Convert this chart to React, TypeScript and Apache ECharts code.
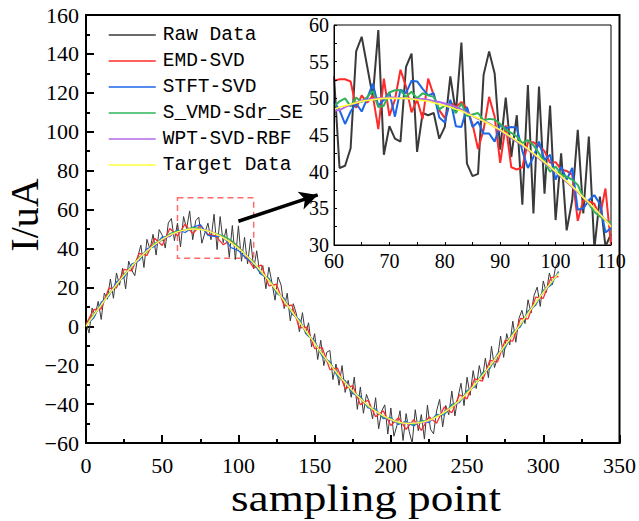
import React, { useEffect, useRef } from "react";
import * as echarts from "echarts";

const seriesNames = ["Raw Data", "EMD-SVD", "STFT-SVD", "S_VMD-Sdr_SE", "WPT-SVD-RBF", "Target Data"];
const seriesColors = ["#3a3a3a", "#ff2b2b", "#1a66e6", "#2db45a", "#b36ae6", "#ffff3a"];

// main chart: raw data sampled every 2 points, filters every 5, smooth curves every 10
const rawMainStep = 2;
const rawMain = [2, -3.5, 9.4, 5.6, 12.8, 3.5, 17.1, 13.9, 24.3, 14.4,
  27.4, 21.1, 29.8, 19.2, 33.5, 28.9, 26.0, 35.8, 41.7, 30.2,
  44.7, 39.5, 47.3, 36.6, 49.7, 46.8, 40.2, 53.1, 55.4, 44.0,
  53, 40.8, 56.4, 50.2, 59.3, 44.5, 54.3, 56.1, 42.7, 48,
  53, 44.5, 57.6, 39.4, 56.4, 43, 50.1, 35.5, 51.8, 34.3,
  51.6, 33.4, 45.7, 32, 44.8, 29.5, 38.8, 27, 31.2, 19.3,
  30.4, 22.4, 13.4, 25.3, 21.2, 9.1, 17, 2.8, 11.6, 6.4,
  -2.8, 7.0, -4, 1.8, -10.6, -3.8, -17.1, -7.2, -20.2, -13.3,
  -12.4, -27.4, -19.4, -30.3, -20.2, -34, -27.8, -36.5, -26.1, -42.7,
  -31.2, -44.7, -35, -39.3, -47.6, -36.7, -52.7, -43.6, -40.4, -55.4,
  -42, -56.5, -51, -43.4, -58.7, -44.9, -54, -60, -42.9, -53.7,
  -45.4, -58, -40.5, -52.9, -55.3, -43.5, -37.6, -51.7, -40.7, -45.5,
  -33.3, -46.1, -36.7, -29.3, -40.8, -26.2, -35.5, -22.8, -32, -20.2,
  -27.3, -16.4, -26.4, -10.3, -21.2, -16.1, -5.0, -16, -3.8, -9.6,
  2.6, -8.2, 4, 8.2, 1.4, 13.6, 6.8, 16, 20.1, 10.2,
  23.3, 17.4, 27.4, 21.4, 30.3, 33];

const filterMainStep = 5;
const emdMain = [1, 8.5, 9.0, 19.5, 19.8, 29.3, 28.5, 37.5, 36.4, 45.2,
  41.5, 50.3, 46.5, 52.5, 47.5, 52.0, 47.3, 46.5, 42.0, 44.1,
  40.9, 36.1, 30.0, 31.5, 20.8, 21.6, 10.5, 10.9, -0.8, -0.5,
  -11.5, -11.0, -22.3, -21.5, -32.0, -30.5, -40.3, -38.0, -46.5, -43.5,
  -51.0, -47.0, -53.0, -48.0, -53.5, -46.5, -49.8, -41.5, -44.5, -35.2,
  -37.3, -27.0, -28.2, -17.5, -18.3, -7.2, -7.6, 4.0, 3.8, 15.0,
  14.4, 25.0, 25.5];
const stftMain = [0.5, 4.2, 12.3, 15.5, 22.8, 25.1, 32.0, 33.8, 39.9, 41.0,
  46.0, 46.1, 49.5, 48.2, 50.8, 52.3, 46.7, 46.1, 46.4, 40.5,
  38.9, 35.0, 32.3, 26.6, 24.6, 17.0, 14.4, 6.5, 3.4, -4.5,
  -7.6, -15.5, -18.2, -25.8, -27.9, -34.6, -36.0, -42.0, -42.6, -47.5,
  -47.0, -50.5, -48.8, -51.3, -48.4, -49.5, -45.3, -45.5, -40.1, -39.3,
  -33.0, -31.2, -24.1, -21.7, -14.0, -11.2, -3.2, -0.2, 7.8, 10.8,
  18.5, 21.1, 28.2];
const vmdMain = [0.3, 6.2, 10.4, 17.0, 20.8, 27.0, 30.2, 35.6, 38.1, 42.7,
  44.1, 47.6, 48.9, 49.5, 50.8, 50.0, 49.0, 47.8, 46.5, 44.3,
  40.7, 36.5, 33.0, 27.5, 24.0, 17.8, 13.7, 7.1, 2.8, -3.9,
  -8.2, -14.8, -18.8, -25.0, -28.4, -33.9, -36.6, -41.3, -43.1, -46.8,
  -47.4, -49.8, -49.3, -50.6, -48.8, -48.8, -45.9, -44.8, -40.7, -38.6,
  -33.6, -30.5, -24.7, -21.0, -14.6, -10.5, -3.8, 0.5, 7.2, 11.5,
  17.9, 21.8, 27.8];

const smoothMainStep = 10;
const wptMain = [0.2, 10.8, 21.6, 30.6, 38.9, 44.5, 48.3, 50.1, 49.3, 45.6,
  40.0, 32.6, 23.2, 13.3, 2.0, -8.6, -19.6, -28.8, -37.4, -43.5,
  -48.1, -49.7, -49.6, -46.4, -41.6, -34.3, -25.6, -14.9, -4.6, 6.8,
  17.2, 27.4];
const targetMain = [0, 11.0, 21.4, 30.8, 38.7, 44.7, 48.5, 50.0, 49.0, 45.6,
  40.1, 32.5, 23.4, 13.1, 2.2, -8.8, -19.4, -29.0, -37.2, -43.7,
  -47.9, -49.9, -49.4, -46.6, -41.5, -34.4, -25.4, -15.1, -4.4, 6.6,
  17.4, 27.2];

// inset: sampling points 60..110, one per point
const insetStart = 60;
const rawInset = [53, 40.5, 40.8, 43.2, 56.4, 58.4, 54.3, 50.2, 59.3, 42.3,
  46.2, 44.5, 44.1, 54.3, 56.1, 42.7, 48, 47.7, 48, 44.5,
  46.1, 53, 48, 57.6, 41.1, 39.4, 39.7, 53.2, 56.4, 53.4,
  43, 50.1, 42, 47.7, 35.5, 51.8, 34.3, 51.6, 37, 49,
  33.4, 42.5, 32, 36.1, 45.7, 34.3, 44.8, 29.5, 36.6, 29.8,
  31.5];
const emdInset = [52.4, 52.6, 52.6, 52.3, 48.7, 50.4, 49.4, 50.4, 45.8, 52.7,
  47.6, 49.8, 53.9, 51.6, 48.1, 49.8, 47.2, 52.7, 50.4, 48.4,
  47.3, 49.5, 48.8, 49.5, 48.6, 46.5, 43.1, 45.7, 50.2, 47.5,
  41.2, 46.3, 40.6, 40.3, 40.6, 44.0, 44.0, 43.5, 42.8, 41.2,
  41.3, 40.3, 40.1, 39.6, 33.3, 36.1, 36.0, 35.6, 33.9, 37.7,
  30.0];
const stftInset = [49.5, 48.4, 46.5, 48.2, 49.3, 48.2, 50.0, 52.0, 49.0, 49.8,
  50.8, 47.5, 51.2, 50.7, 52.4, 52.3, 51.3, 50.4, 50.7, 47.4,
  46.7, 49.8, 46.2, 46.1, 48.8, 46.1, 46.8, 45.2, 45.2, 44.1,
  46.4, 45.9, 46.1, 46.0, 42.8, 40.5, 42.0, 44.1, 41.6, 42.3,
  38.9, 40.7, 38.9, 40.5, 34.8, 35.0, 36.1, 36.8, 35.6, 31.7,
  32.3];
const vmdInset = [48.9, 49.6, 50.0, 48.9, 50.1, 49.5, 50.2, 51.0, 48.8, 49.0,
  50.8, 51.1, 51.1, 50.2, 50.9, 50.0, 50.7, 50.4, 50.2, 48.5,
  49.0, 49.2, 48.0, 49.3, 47.6, 47.8, 48.0, 47.0, 47.2, 47.1,
  46.5, 45.7, 45.3, 44.8, 43.9, 44.3, 43.6, 42.5, 41.3, 40.0,
  40.7, 39.6, 39.3, 38.9, 38.2, 36.5, 35.6, 34.5, 33.9, 33.4,
  33.0];
const wptInset = [48.3, 48.4, 48.8, 49.1, 49.4, 49.7, 49.8, 49.9, 50.0, 50.0,
  50.1, 50.1, 50.0, 50.0, 49.9, 49.9, 49.9, 49.8, 49.6, 49.5,
  49.3, 49.1, 48.8, 48.5, 48.0, 47.6, 47.2, 46.9, 46.6, 46.1,
  45.6, 45.1, 44.6, 44.1, 43.6, 43.0, 42.4, 41.8, 41.2, 40.6,
  40.0, 39.3, 38.6, 37.9, 37.2, 36.5, 35.7, 35.0, 34.2, 33.4,
  32.6];
const targetInset = [48.5, 48.8, 49.0, 49.2, 49.4, 49.6, 49.7, 49.8, 49.9, 50.0,
  50.0, 50.0, 50.0, 50.0, 49.9, 49.8, 49.7, 49.6, 49.4, 49.2,
  49.0, 48.8, 48.5, 48.3, 47.9, 47.6, 47.3, 46.9, 46.5, 46.1,
  45.7, 45.2, 44.7, 44.2, 43.7, 43.1, 42.5, 41.9, 41.3, 40.7,
  40.0, 39.4, 38.7, 38.0, 37.3, 36.5, 35.8, 35.0, 34.2, 33.4,
  32.5];

// zoom box (data coords) and arrow (data coords)
const zoomBoxX = [60, 110];
const zoomBoxY = [35, 66];
const arrowFrom = [100, 54];
const arrowTo = [152, 67.5];

const SERIF = "'Liberation Serif', 'Times New Roman', serif";
const MONO = "'Liberation Mono', 'DejaVu Sans Mono', monospace";

const pairs = (ys: number[], start: number, step: number) => ys.map((v, i) => [start + i * step, v]);
const minus = (v: number) => String(v).replace("-", "\u2212");

export default function App() {
  const ref = useRef<HTMLDivElement>(null);
  useEffect(() => {
    document.body.style.margin = "0";
    const chart = echarts.init(ref.current!, null, { renderer: "svg" });

    const mainSets = [
      pairs(rawMain, 0, rawMainStep),
      pairs(emdMain, 0, filterMainStep),
      pairs(stftMain, 0, filterMainStep),
      pairs(vmdMain, 0, filterMainStep),
      pairs(wptMain, 0, smoothMainStep),
      pairs(targetMain, 0, smoothMainStep),
    ];
    const insetSets = [rawInset, emdInset, stftInset, vmdInset, wptInset, targetInset].map((a) => pairs(a, insetStart, 1));
    const mainWidths = [1, 1.3, 1.3, 1.3, 1.3, 1.3];
    const insetWidths = [2, 2, 2, 2, 2, 1.6];

    const series: any[] = [];
    mainSets.forEach((d, i) => {
      const s: any = {
        name: seriesNames[i],
        type: "line",
        xAxisIndex: 0,
        yAxisIndex: 0,
        data: d,
        symbol: "none",
        smooth: i >= 4 ? 0.4 : false,
        lineStyle: { color: seriesColors[i], width: mainWidths[i] },
        itemStyle: { color: seriesColors[i] },
        z: 2 + i * 0.1,
      };
      if (i === 0) {
        s.markArea = {
          silent: true,
          itemStyle: { color: "rgba(0,0,0,0)", borderColor: "#ff6a6a", borderWidth: 1.5, borderType: [6, 4] },
          data: [[{ coord: [zoomBoxX[0], zoomBoxY[1]] }, { coord: [zoomBoxX[1], zoomBoxY[0]] }]],
        };
        s.markLine = {
          silent: true,
          symbol: ["none", "arrow"],
          symbolSize: [14, 18],
          label: { show: false },
          lineStyle: { color: "#000", width: 3.5, type: "solid" },
          data: [[{ coord: arrowFrom }, { coord: arrowTo }]],
        };
      }
      series.push(s);
    });
    insetSets.forEach((d, i) => {
      series.push({
        name: "inset " + seriesNames[i],
        type: "line",
        xAxisIndex: 1,
        yAxisIndex: 1,
        data: d,
        symbol: "none",
        lineStyle: { color: seriesColors[i], width: insetWidths[i] },
        itemStyle: { color: seriesColors[i] },
        z: 10 + i * 0.1,
      });
    });

    const axisCommon = (main: boolean) => ({
      axisLine: { show: true, onZero: false, lineStyle: { color: "#000", width: main ? 2 : 1 } },
      axisTick: { show: true, inside: true, length: main ? 8 : 3, lineStyle: { color: "#000", width: main ? 2 : 1 } },
      minorTick: { show: true, splitNumber: 2, length: main ? 4 : 3, lineStyle: { color: "#000", width: main ? 2 : 1 } },
      splitLine: { show: false },
      minorSplitLine: { show: false },
    });

    chart.setOption({
      animation: false,
      backgroundColor: "#fff",
      grid: [
        { left: 86, right: 19, top: 15, bottom: 78, show: true, borderColor: "#000", borderWidth: 2, backgroundColor: "rgba(0,0,0,0)" },
        { left: 334, right: 28, top: 25, bottom: 276, show: true, borderColor: "#000", borderWidth: 1, backgroundColor: "#fff", z: 8 },
      ],
      xAxis: [
        {
          type: "value", gridIndex: 0, min: 0, max: 350, interval: 50,
          ...axisCommon(true),
          axisLabel: { color: "#000", fontFamily: SERIF, fontSize: 22, margin: 11, formatter: minus },
        },
        {
          type: "value", gridIndex: 1, min: 60, max: 110, interval: 10, z: 12,
          ...axisCommon(false),
          axisLabel: { color: "#000", fontFamily: SERIF, fontSize: 20, margin: 6, formatter: minus },
        },
      ],
      yAxis: [
        {
          type: "value", gridIndex: 0, min: -60, max: 160, interval: 20,
          ...axisCommon(true),
          axisLabel: { color: "#000", fontFamily: SERIF, fontSize: 22, margin: 7, formatter: minus },
        },
        {
          type: "value", gridIndex: 1, min: 30, max: 60, interval: 5, z: 12,
          ...axisCommon(false),
          axisLabel: { color: "#000", fontFamily: SERIF, fontSize: 20, margin: 5, formatter: minus },
        },
      ],
      legend: {
        data: seriesNames,
        orient: "vertical",
        left: 103,
        top: 19,
        itemWidth: 47,
        itemHeight: 14,
        itemGap: 4,
        itemStyle: { opacity: 0 },
        lineStyle: { width: 1.5 },
        textStyle: { fontFamily: MONO, fontSize: 19.5, color: "#000", lineHeight: 22, padding: [0, 0, 0, 2] },
      },
      graphic: [
        {
          type: "text", x: 24, y: 215, rotation: Math.PI / 2,
          style: { text: "I/uA", fontFamily: SERIF, fontSize: 40, fill: "#000", align: "center", verticalAlign: "middle" },
        },
        {
          type: "text", x: 366, y: 498, scaleX: 1.19,
          style: { text: "sampling point", fontFamily: SERIF, fontSize: 38, fill: "#000", align: "center", verticalAlign: "middle" },
        },
      ],
      series,
    });
    return () => chart.dispose();
  }, []);
  return <div ref={ref} style={{ position: "absolute", left: 0, top: 0, width: 639, height: 521 }} />;
}
